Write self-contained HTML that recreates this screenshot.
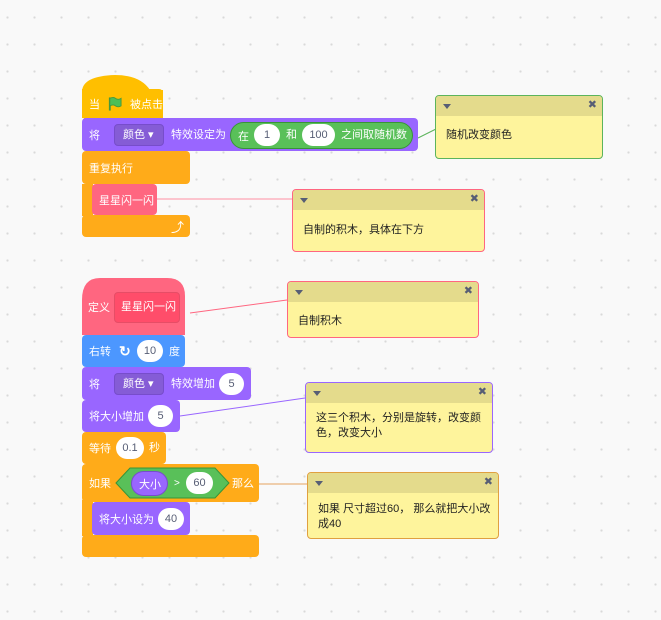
<!DOCTYPE html>
<html><head><meta charset="utf-8"><style>
*{margin:0;padding:0;box-sizing:border-box}
body{width:661px;height:620px;overflow:hidden;background:#f9f9f9;background-image:radial-gradient(circle,#d9d9d9 1px,transparent 1.3px);background-size:27px 27px;background-position:-6px 4px;font-family:"Liberation Sans","Noto Sans CJK SC",sans-serif;font-size:11px;position:relative}
.b{position:absolute;border-radius:4px;color:#fff;display:flex;align-items:center;padding-left:7px;white-space:nowrap;font-size:11px}
.t{position:absolute;color:#fff;white-space:nowrap;font-size:11px;line-height:14px}
.in{position:absolute;background:#fff;border-radius:11px;color:#575e75;text-align:center;line-height:22px;height:22px;font-size:11px}
.dd{position:absolute;border-radius:4px;color:#fff;line-height:20px;height:22px;padding-left:8px;font-size:11px;white-space:nowrap}
.c{position:absolute;background:#fef49c;border-radius:4px;overflow:hidden}
.c .h{height:20px;background:#e4db8c;position:relative}
.c .h:before{content:"";position:absolute;left:7px;top:8px;border:4px solid transparent;border-top:5px solid #575e75;border-bottom:0}
.c .h:after{content:"✖";position:absolute;right:5px;top:2px;color:#575e75;font-size:11px}
.c .x{position:absolute;left:10px;font-size:11px;color:#222}
</style></head><body>
<svg width="661" height="620" style="position:absolute;left:0;top:0">
<line x1="418" y1="138" x2="436" y2="129" stroke="#5cb45c"/>
<line x1="157" y1="199" x2="292" y2="199" stroke="#ff8fa3"/>
<line x1="190" y1="313" x2="287" y2="300" stroke="#ff6680"/>
<line x1="180" y1="416" x2="305" y2="398" stroke="#9966ff"/>
<line x1="259" y1="484" x2="307" y2="484" stroke="#e5a45e"/>
<path d="M82 92 Q82 76 115 75 Q140 75 150 90 L163 90 L163 118 L82 118 Z" fill="#ffbf00"/>
<path d="M82 300 Q82 278 100 278 L167 278 Q185 278 185 296 L185 335 L82 335 Z" fill="#ff6680"/>
</svg>
<div class="b" style="left:82px;top:89px;width:81px;height:30px;background:#ffbf00;border-radius:0 4px 4px 4px">当<svg width="16" height="16" style="margin:0 8px 0 7px" viewBox="0 0 16 16"><path d="M3 1 L3 15" stroke="#45993d" stroke-width="2"/><path d="M3 2 Q7 0 9 2 Q12 4 15 2 L15 10 Q12 12 9 10 Q7 8 3 10 Z" fill="#4cbf56" stroke="#45993d"/></svg>被点击</div>
<div class="b" style="left:82px;top:118px;width:336px;height:33px;background:#9966ff">将</div>
<div class="dd" style="left:114px;top:124px;width:50px;background:#855cd6;border:1px solid #774dcb">颜色 ▾</div>
<div class="t" style="left:171px;top:128px">特效设定为</div>
<div class="b" style="left:230px;top:122px;width:183px;height:27px;background:#59c059;border-radius:14px;border:1px solid #389438;padding-left:7px">在</div>
<div class="in" style="left:254px;top:124px;width:26px">1</div>
<div class="t" style="left:286px;top:128px">和</div>
<div class="in" style="left:302px;top:124px;width:33px">100</div>
<div class="t" style="left:341px;top:128px">之间取随机数</div>
<div class="b" style="left:82px;top:151px;width:108px;height:33px;background:#ffab19">重复执行</div>
<div style="position:absolute;left:82px;top:184px;width:11px;height:32px;background:#ffab19"></div>
<div class="b" style="left:92px;top:184px;width:65px;height:31px;background:#ff6680">星星闪一闪</div>
<div class="b" style="left:82px;top:215px;width:108px;height:22px;background:#ffab19;justify-content:flex-end;padding-right:6px;font-size:13px">⤴</div>

<div class="dd" style="left:114px;top:292px;width:66px;height:31px;line-height:29px;background:#ff4d6a;border:1px solid #e64d66;padding-left:6px">星星闪一闪</div>
<div class="t" style="left:88px;top:301px">定义</div>
<div class="b" style="left:82px;top:335px;width:103px;height:32px;background:#4c97ff">右转<span style="font-size:14px;margin-left:8px;font-weight:bold">↻</span></div>
<div class="in" style="left:137px;top:340px;width:26px">10</div>
<div class="t" style="left:169px;top:345px">度</div>
<div class="b" style="left:82px;top:367px;width:169px;height:33px;background:#9966ff">将</div>
<div class="dd" style="left:114px;top:373px;width:50px;background:#855cd6;border:1px solid #774dcb">颜色 ▾</div>
<div class="t" style="left:171px;top:377px">特效增加</div>
<div class="in" style="left:219px;top:373px;width:25px">5</div>
<div class="b" style="left:82px;top:400px;width:98px;height:32px;background:#9966ff">将大小增加</div>
<div class="in" style="left:148px;top:405px;width:25px">5</div>
<div class="b" style="left:82px;top:432px;width:84px;height:32px;background:#ffab19">等待</div>
<div class="in" style="left:116px;top:437px;width:28px">0.1</div>
<div class="t" style="left:149px;top:441px">秒</div>
<div class="b" style="left:82px;top:464px;width:177px;height:38px;background:#ffab19">如果</div>
<svg width="120" height="32" style="position:absolute;left:114px;top:467px"><polygon points="2,16 16,1 101,1 115,16 101,31 16,31" fill="#59c059" stroke="#389438"/></svg>
<div class="b" style="left:131px;top:471px;width:37px;height:25px;background:#9966ff;border-radius:13px;border:1px solid #774dcb">大小</div>
<div class="t" style="left:174px;top:477px;font-size:10px">&gt;</div>
<div class="in" style="left:186px;top:472px;width:27px">60</div>
<div class="t" style="left:232px;top:477px">那么</div>
<div style="position:absolute;left:82px;top:500px;width:11px;height:36px;background:#ffab19"></div>
<div class="b" style="left:92px;top:502px;width:98px;height:33px;background:#9966ff">将大小设为</div>
<div class="in" style="left:158px;top:508px;width:26px">40</div>
<div class="b" style="left:82px;top:535px;width:177px;height:22px;background:#ffab19"></div>

<div class="c" style="left:435px;top:95px;width:168px;height:64px;border:1px solid #5cb45c"><div class="h"></div><div class="x" style="top:30px">随机改变颜色</div></div>
<div class="c" style="left:292px;top:189px;width:193px;height:63px;border:1px solid #ff6680"><div class="h"></div><div class="x" style="top:31px">自制的积木，具体在下方</div></div>
<div class="c" style="left:287px;top:281px;width:192px;height:57px;border:1px solid #ff6680"><div class="h"></div><div class="x" style="top:30px">自制积木</div></div>
<div class="c" style="left:305px;top:382px;width:188px;height:71px;border:1px solid #9966ff"><div class="h"></div><div class="x" style="top:28px;width:170px;line-height:15px">这三个积木，分别是旋转，改变颜色，改变大小</div></div>
<div class="c" style="left:307px;top:472px;width:192px;height:67px;border:1px solid #e0a040"><div class="h"></div><div class="x" style="top:29px;width:175px;line-height:15px">如果 尺寸超过60， 那么就把大小改成40</div></div>
</body></html>
